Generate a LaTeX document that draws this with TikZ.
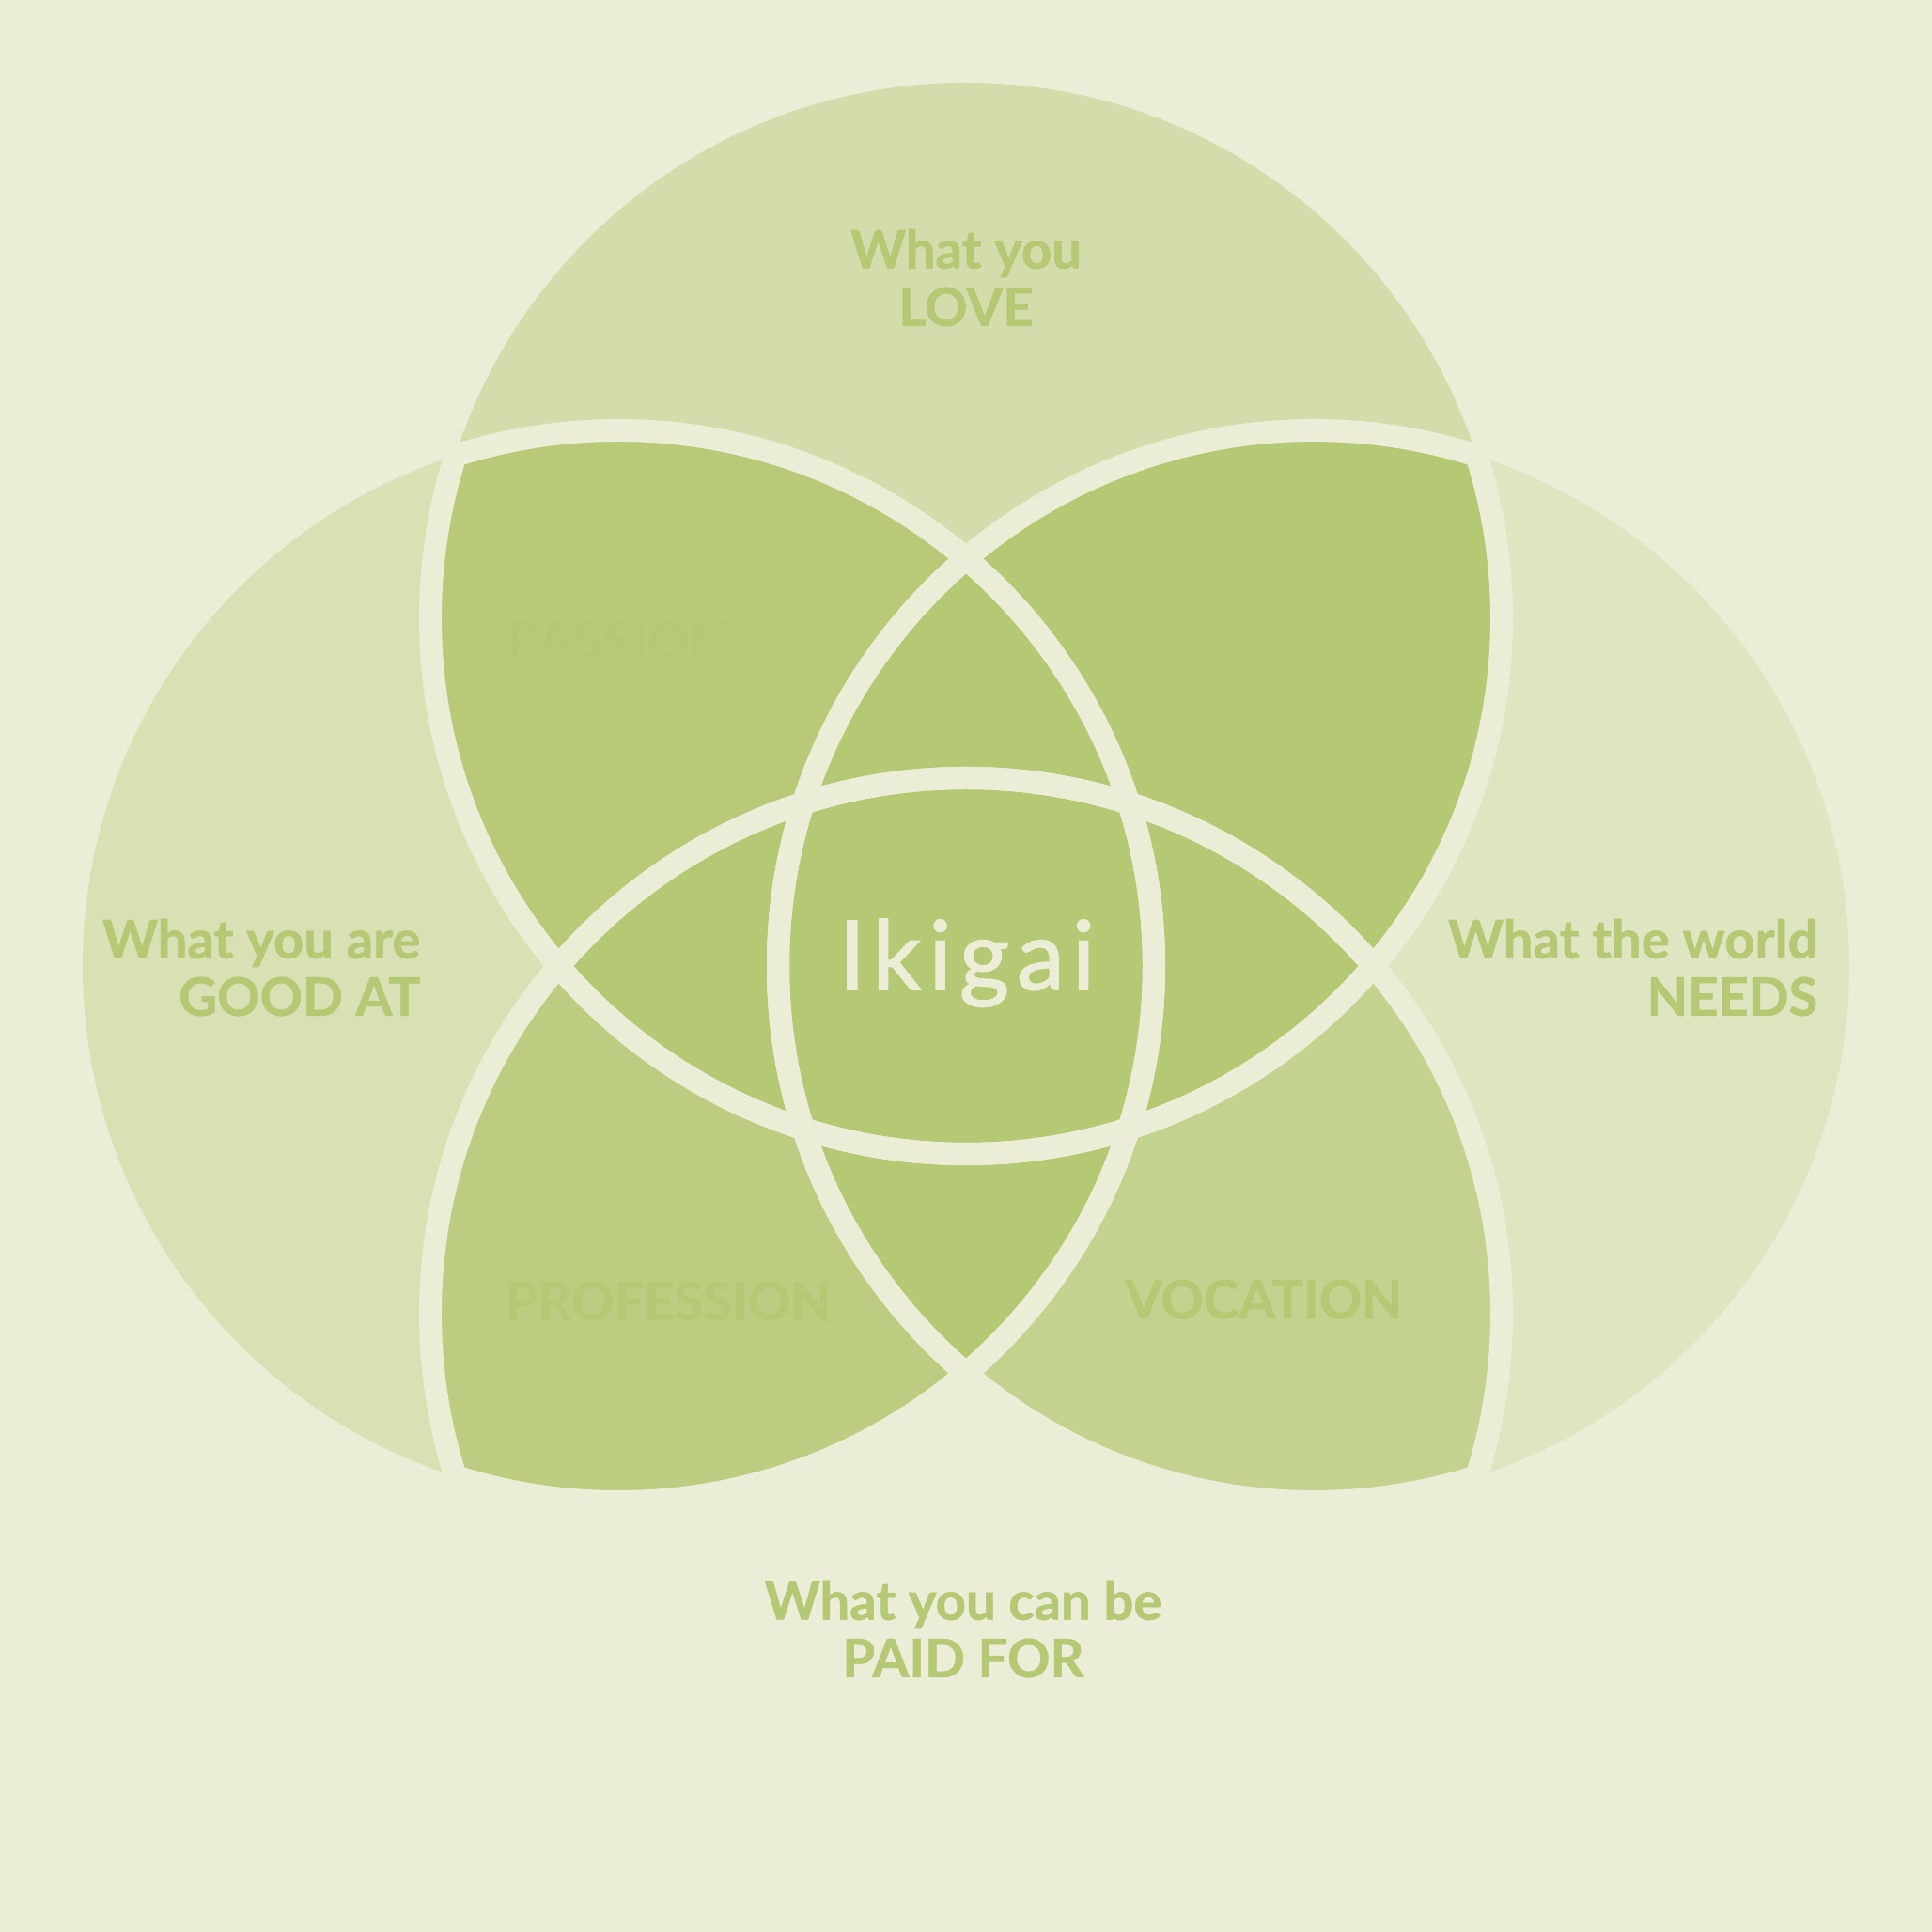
\documentclass[tikz,border=0pt]{standalone}
\usepackage{fontspec}
\setmainfont{Lato}
\definecolor{ikigreen}{RGB}{181,200,115}
\definecolor{ikicream}{RGB}{235,237,215}
\begin{document}
\begin{tikzpicture}[
  every node/.style={inner sep=0pt},
  ring/.style={draw=ikicream, line width=0.24cm},
  heading/.style={font=\bfseries\fontsize{16}{17.4}\selectfont\addfontfeatures{FakeBold=1}, text=ikigreen},
  zone/.style={font=\bfseries\fontsize{16}{17.4}\selectfont\addfontfeatures{FakeBold=1}, text=ikigreen},
  title/.style={font=\fontsize{29}{30}\selectfont\addfontfeatures{LetterSpace=8,FakeBold=1.5}, text=ikicream}
]
  \fill[ikicream] (-10.28,-10.28) rectangle (10.28,10.28);
  \useasboundingbox (-10.28,-10.28) rectangle (10.28,10.28);

  \coordinate (love) at (0,3.7);
  \coordinate (good) at (-3.7,0);
  \coordinate (needs) at (3.7,0);
  \coordinate (paid) at (0,-3.7);

  % single circles
  \fill[ikigreen!45!ikicream] (love) circle (5.7);
  \fill[ikigreen!35!ikicream] (good) circle (5.7);
  \fill[ikigreen!22!ikicream] (needs) circle (5.7);

  % overlaps
  \begin{scope}
    \clip (love) circle (5.7);
    \fill[ikigreen!95!ikicream] (good) circle (5.7);
    \fill[ikigreen] (needs) circle (5.7);
  \end{scope}
  \begin{scope}
    \clip (paid) circle (5.7);
    \fill[ikigreen!86!ikicream] (good) circle (5.7);
    \fill[ikigreen!72!ikicream] (needs) circle (5.7);
    \fill[ikigreen] (love) circle (5.7);
  \end{scope}
  \begin{scope}
    \clip (good) circle (5.7);
    \fill[ikigreen] (needs) circle (5.7);
  \end{scope}

  % gaps, only where circles overlap
  \foreach \c in {love,good,needs,paid}
    \foreach \d in {love,good,needs,paid} {
      \ifx\c\d\else
        \begin{scope}
          \clip (\d) circle (5.82);
          \draw[ring] (\c) circle (5.7);
        \end{scope}
      \fi
    }

  \node[heading, align=center, anchor=south] (lovetxt) at (0,6.80) {What you\\LOVE};
  \node[heading, align=right, anchor=south east] (goodtxt) at (-5.80,-0.54) {What you are\\GOOD AT};
  \node[heading, align=right, anchor=south east] (needstxt) at (9.07,-0.54) {What the world\\NEEDS};
  \node[heading, align=center, anchor=south] (paidtxt) at (-0.03,-7.58) {What you can be\\PAID FOR};

  \node[zone, anchor=base] (passion) at (-3.70,3.25) {PASSION};
  \node[zone, anchor=base] (profession) at (-3.17,-3.77) {PROFESSION};
  \node[zone, anchor=base] (vocation) at (3.17,-3.75) {VOCATION};

  \node[title, anchor=base] (ikigai) at (0.01,-0.25) {Ikigai};
\end{tikzpicture}
\end{document}
